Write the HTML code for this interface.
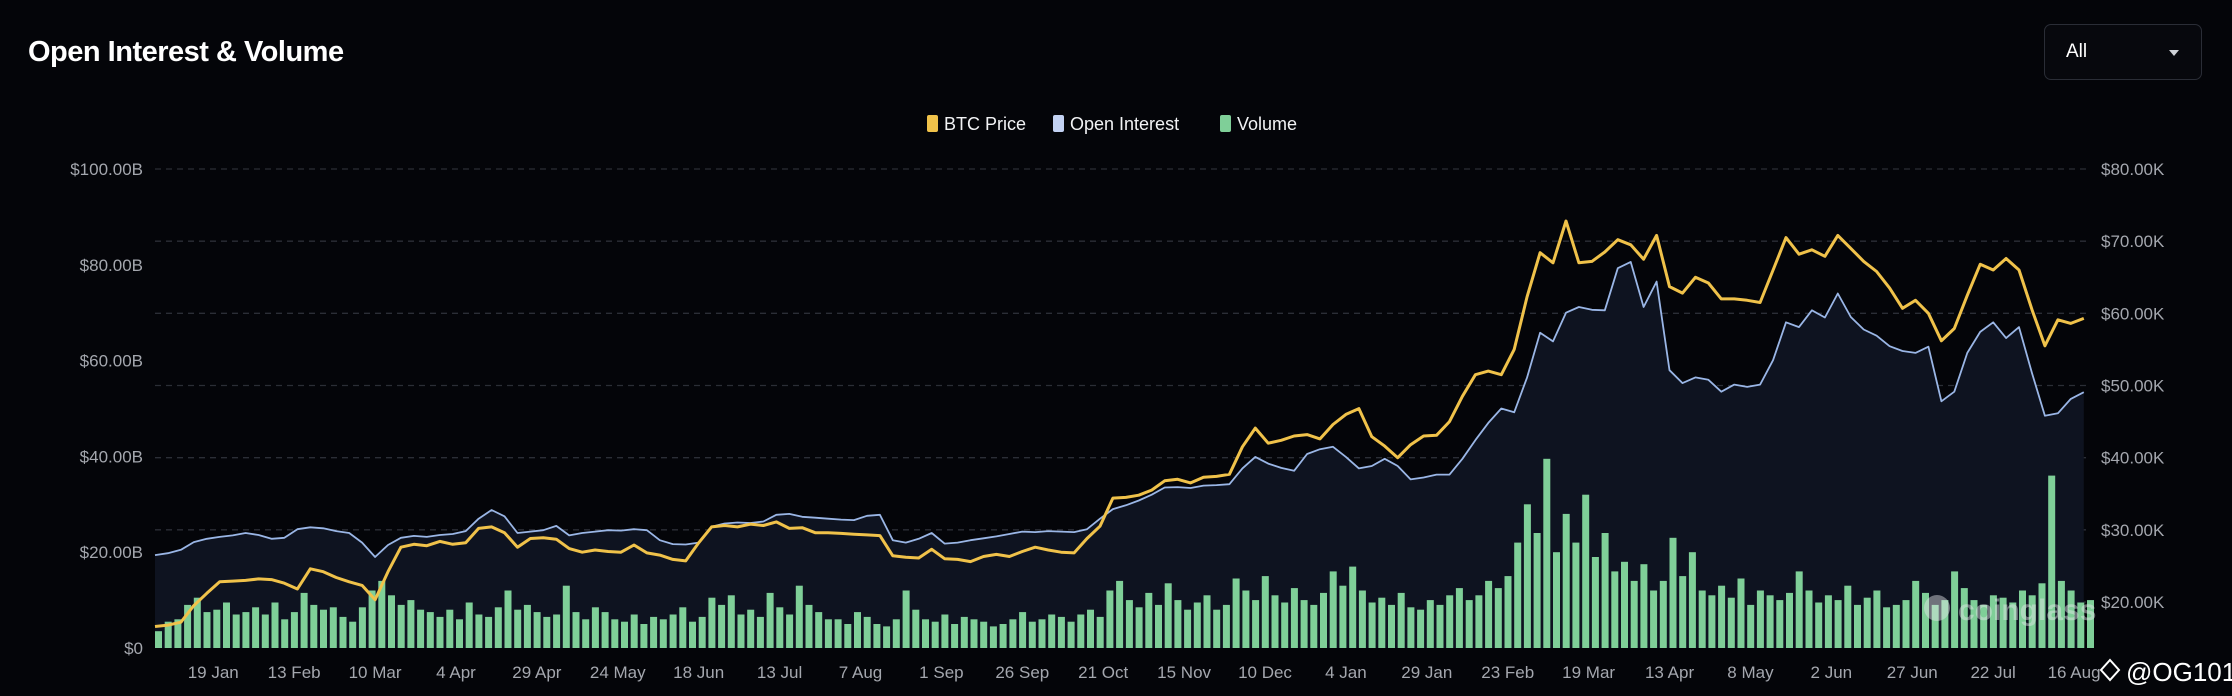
<!DOCTYPE html>
<html><head><meta charset="utf-8">
<style>
html,body{margin:0;padding:0;background:#040509;}
body{width:2232px;height:696px;overflow:hidden;position:relative;font-family:"Liberation Sans",sans-serif;}
#title{position:absolute;left:28px;top:36px;color:#fff;font-size:29px;font-weight:bold;letter-spacing:-0.5px;}
#dd{position:absolute;left:2044px;top:24px;width:158px;height:56px;border:1px solid #2a2d36;border-radius:7px;background:#07080d;box-sizing:border-box;}
#dd span{position:absolute;left:21px;top:16px;color:#fff;font-size:19px;}
#dd i{position:absolute;right:22px;top:25px;width:0;height:0;border-left:5px solid transparent;border-right:5px solid transparent;border-top:6px solid #cfd2d8;}
svg{position:absolute;left:0;top:0;}
</style></head>
<body>
<div id="title">Open Interest &amp; Volume</div>
<div id="dd"><span>All</span><i></i></div>
<svg id="chart" width="2232" height="696"></svg>
<script>
const priceK=[16.6,16.8,17.2,19.5,21.2,22.8,22.9,23.0,23.2,23.1,
22.6,21.8,24.6,24.2,23.4,22.8,22.3,20.3,24.2,27.6,
28.0,27.8,28.4,28.0,28.2,30.2,30.4,29.6,27.6,28.8,
28.9,28.7,27.4,26.9,27.2,27.0,26.9,27.9,26.8,26.5,
25.9,25.7,28.2,30.4,30.6,30.4,30.8,30.6,31.1,30.2,
30.3,29.6,29.6,29.5,29.4,29.3,29.2,26.4,26.2,26.1,
27.3,26.0,25.9,25.6,26.3,26.6,26.3,27.0,27.6,27.2,
26.9,26.8,28.8,30.5,34.4,34.5,34.8,35.5,36.8,37.0,
36.5,37.3,37.4,37.7,41.5,44.1,42.0,42.4,43.0,43.2,
42.6,44.6,46.0,46.8,42.9,41.6,40.0,41.8,43.0,43.1,
45.0,48.5,51.5,52.0,51.5,55.0,62.3,68.4,67.0,72.8,
67.0,67.2,68.5,70.2,69.5,67.5,70.8,63.7,62.8,65.0,
64.2,62.0,62.0,61.8,61.5,66.0,70.5,68.2,68.8,67.9,
70.8,69.0,67.2,65.8,63.5,60.7,61.8,60.0,56.2,57.9,
62.5,66.8,66.0,67.6,66.0,60.5,55.5,59.1,58.6,59.3];
const oiB=[19.4,19.8,20.5,22.1,22.8,23.2,23.5,24.0,23.6,22.8,
23.0,24.8,25.2,25.0,24.4,24.0,22.0,19.0,21.5,23.0,
23.4,23.2,23.6,23.8,24.4,27.0,28.8,27.5,24.0,24.3,
24.6,25.5,23.5,24.0,24.3,24.6,24.5,24.8,24.6,22.5,
21.7,21.6,22.0,25.3,26.0,26.2,26.1,26.4,27.8,28.0,
27.4,27.2,27.0,26.8,26.7,27.6,27.8,22.5,22.0,22.8,
24.0,21.8,22.0,22.5,22.9,23.3,23.8,24.3,24.2,24.4,
24.3,24.2,24.8,27.0,29.0,29.8,30.8,32.0,33.5,33.6,
33.4,33.9,34.0,34.2,37.5,39.9,38.5,37.6,37.0,40.5,
41.5,42.0,39.9,37.5,38.0,39.5,38.0,35.2,35.6,36.2,
36.2,39.5,43.4,47.0,50.0,49.2,56.5,65.8,64.0,70.0,
71.2,70.6,70.5,79.3,80.6,71.2,76.5,58.0,55.3,56.5,
56.0,53.5,55.0,54.5,55.0,60.1,68.0,67.0,70.5,69.0,
74.0,69.1,66.5,65.2,63.0,62.0,61.6,62.9,51.5,53.5,
61.6,66.0,68.0,64.7,67.0,57.4,48.5,49.0,52.0,53.4];
const volumeB=[3.5,5.5,6.0,9.0,10.5,7.5,8.0,9.5,7.0,7.5,
8.5,7.0,9.5,6.0,7.5,11.5,9.0,8.0,8.5,6.5,
5.5,8.5,12.0,14.0,11.0,9.0,10.0,8.0,7.5,6.5,
8.0,6.0,9.5,7.0,6.5,8.5,12.0,8.0,9.0,7.5,
6.5,7.0,13.0,7.5,6.0,8.5,7.5,6.0,5.5,7.0,
5.0,6.5,6.0,7.0,8.5,5.5,6.5,10.5,9.0,11.0,
7.0,8.0,6.5,11.5,8.5,7.0,13.0,9.0,7.5,6.0,
6.0,5.0,7.5,6.5,5.0,4.5,6.0,12.0,8.0,6.0,
5.5,7.0,5.0,6.5,6.0,5.5,4.5,5.0,6.0,7.5,
5.5,6.0,7.0,6.5,5.5,7.0,8.0,6.5,12.0,14.0,
10.0,8.5,11.5,9.0,13.5,10.0,8.0,9.5,11.0,8.0,
9.0,14.5,12.0,10.0,15.0,11.0,9.5,12.5,10.0,9.0,
11.5,16.0,13.0,17.0,12.0,9.5,10.5,9.0,11.5,8.5,
8.0,10.0,9.0,11.0,12.5,10.0,11.0,14.0,12.5,15.0,
22.0,30.0,24.0,39.5,20.0,28.0,22.0,32.0,19.0,24.0,
16.0,18.0,14.0,17.5,12.0,14.0,23.0,15.0,20.0,12.0,
11.0,13.0,10.5,14.5,9.0,12.0,11.0,10.0,11.5,16.0,
12.0,9.5,11.0,10.0,13.0,9.0,10.5,12.0,8.5,9.0,
10.0,14.0,11.5,9.0,10.0,16.0,12.5,10.0,9.0,11.0,
10.5,9.5,12.0,11.0,13.5,36.0,14.0,12.0,9.5,10.0];
const xTickLabels=["19 Jan","13 Feb","10 Mar","4 Apr","29 Apr","24 May","18 Jun","13 Jul","7 Aug","1 Sep","26 Sep","21 Oct","15 Nov","10 Dec","4 Jan","29 Jan","23 Feb","19 Mar","13 Apr","8 May","2 Jun","27 Jun","22 Jul","16 Aug"];
const leftTicks=[0,20,40,60,80,100];
const leftTickLabels=["$0","$20.00B","$40.00B","$60.00B","$80.00B","$100.00B"];
const rightTicks=[20,30,40,50,60,70,80];
const rightTickLabels=["$20.00K","$30.00K","$40.00K","$50.00K","$60.00K","$70.00K","$80.00K"];

const NS="http://www.w3.org/2000/svg";
const svg=document.getElementById('chart');
const X0=155,X1=2087,TOTAL_DAYS=597,BASE=648,TOPY=169;
const xDay=d=>X0+d*(X1-X0)/TOTAL_DAYS;
const yLeft=v=>BASE-v*(BASE-TOPY)/100;
const yRight=v=>TOPY+(80-v)*((602-TOPY)/60);
function mk(tag,attrs){const e=document.createElementNS(NS,tag);for(const k in attrs)e.setAttribute(k,attrs[k]);svg.appendChild(e);return e;}

// gridlines
rightTicks.forEach((t,i)=>{
  const g=mk('line',{x1:X0,x2:X1,y1:yRight(t),y2:yRight(t),stroke:'#2b2e36','stroke-width':1.3,'stroke-dasharray':'6 5'});
  
  
  const l=mk('text',{x:2101,y:yRight(t)+6,fill:'#a4a7ae','font-size':17});
  l.textContent=rightTickLabels[i];
  
  
});
leftTicks.forEach((t,i)=>{
  const l=mk('text',{x:143,y:yLeft(t)+6,fill:'#a4a7ae','font-size':17,'text-anchor':'end'});
  l.textContent=leftTickLabels[i];
  
  
});

// OI area
const stepP=4;
let pts=oiB.map((v,i)=>xDay(i*stepP).toFixed(1)+','+yLeft(v).toFixed(1));
const area=mk('path',{d:'M'+xDay(0)+','+BASE+' L'+pts.join(' L')+' L'+xDay((oiB.length-1)*stepP)+','+BASE+' Z',fill:'#0e1320'});



// volume bars
const stepV=3;
const bw=stepV*(X1-X0)/TOTAL_DAYS*0.72;
volumeB.forEach((v,i)=>{
  const x=xDay(i*stepV);
  const b=mk('rect',{x:x.toFixed(1),y:yLeft(v).toFixed(1),width:bw.toFixed(1),height:(BASE-yLeft(v)).toFixed(1),fill:'#7fcf98'});
  
  
});

// OI line
const oiLine=mk('polyline',{points:pts.join(' '),fill:'none',stroke:'#9ab6e6','stroke-width':1.8,'stroke-linejoin':'round'});



// price line
const pp=priceK.map((v,i)=>xDay(i*stepP).toFixed(1)+','+yRight(v).toFixed(1));
const pl=mk('polyline',{points:pp.join(' '),fill:'none',stroke:'#f0c24a','stroke-width':3,'stroke-linejoin':'round'});



// x ticks
xTickLabels.forEach((s,i)=>{
  const t=mk('text',{x:xDay(18+i*25),y:678,fill:'#a4a7ae','font-size':17,'text-anchor':'middle'});
  t.textContent=s;
  
  
});

// legend
const legendNames=["BTC Price","Open Interest","Volume"];
const legendColors=["#f0c24a","#c3d2f3","#7fcf98"];
const legendX=[927,1053,1220];
legendNames.forEach((n,i)=>{
  const r=mk('rect',{x:legendX[i],y:115,width:11,height:17,rx:2,fill:legendColors[i]});
  
  
  const t=mk('text',{x:legendX[i]+17,y:130,fill:'#f2f3f5','font-size':18});
  t.textContent=n;
  
  
});

// watermark
const wm=mk('text',{x:1958,y:620,fill:'rgba(230,230,235,0.45)','font-size':30,'font-weight':'bold'});
wm.textContent='coinglass';


const wmi=mk('circle',{cx:1937,cy:608,r:13,fill:'rgba(230,230,235,0.45)'});



// handle
const hd=mk('text',{x:2126,y:681,fill:'#ffffff','font-size':26});
hd.textContent='@OG101';


const hi=mk('path',{d:'M2110,660 L2119,670 L2110,680 L2101,670 Z',fill:'none',stroke:'#fff','stroke-width':2});


</script>
</body></html>
